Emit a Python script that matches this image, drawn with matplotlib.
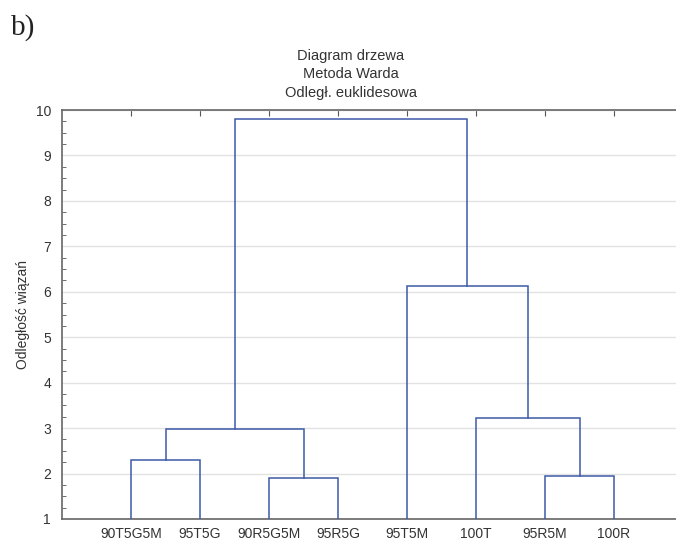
import matplotlib.pyplot as plt
from matplotlib.ticker import MultipleLocator

# leaves in plotted order
leaves = ["90T5G5M", "95T5G", "90R5G5M", "95R5G", "95T5M", "100T", "95R5M", "100R"]
# merges: (node a, node b, height); nodes 0-7 are leaves, 8+ are merged clusters
merge_a = [2, 6, 0, 5, 10, 4, 12]
merge_b = [3, 7, 1, 9, 8, 11, 13]
merge_h = [1.90, 1.95, 2.30, 3.22, 2.98, 6.13, 9.80]

line_col = "#3c5aa8"
text_col = "#333333"

plt.rcParams['font.family'] = ['Liberation Sans', 'DejaVu Sans']

fig = plt.figure(figsize=(6.76, 5.41), dpi=100)
ax = fig.add_axes([62 / 676, 1 - 519 / 541, 621 / 676, 409 / 541])

pos = {i: (i + 1, 1.0) for i in range(len(leaves))}
for k, (a, b, h) in enumerate(zip(merge_a, merge_b, merge_h)):
    xa, ya = pos[a]
    xb, yb = pos[b]
    ax.plot([xa, xa, xb, xb], [ya, h, h, yb], color=line_col, lw=1.1,
            solid_joinstyle="miter", zorder=3)
    pos[len(leaves) + k] = ((xa + xb) / 2, h)

ax.set_xlim(0, 9)
ax.set_ylim(1, 10)
ax.set_xticks(range(1, len(leaves) + 1))
ax.set_xticklabels(leaves)
ax.yaxis.set_major_locator(MultipleLocator(1))
ax.yaxis.set_minor_locator(MultipleLocator(0.25))
ax.grid(axis="y", color="#e2e2e2", lw=1, zorder=0)
ax.set_axisbelow(True)

ax.tick_params(axis="x", which="both", direction="in", top=True, bottom=False,
               length=4, color="#555555", labelsize=10, labelcolor=text_col, pad=6)
ax.tick_params(axis="y", which="major", direction="in", length=0,
               labelsize=10, labelcolor=text_col, pad=8)
ax.tick_params(axis="y", which="minor", direction="in", length=3, color="#555555")
for s in ax.spines.values():
    s.set_color("#666666")
    s.set_linewidth(1.2)

ax.set_ylabel("Odległość wiązań", fontsize=10, color=text_col, labelpad=4)

fig.text(351 / 676, 1 - 56 / 541, "Diagram drzewa", ha="center", va="center",
         fontsize=10.5, color=text_col)
fig.text(351 / 676, 1 - 74 / 541, "Metoda Warda", ha="center", va="center",
         fontsize=10.5, color=text_col)
fig.text(351 / 676, 1 - 93 / 541, "Odległ. euklidesowa", ha="center", va="center",
         fontsize=10.5, color=text_col)
fig.text(11 / 676, 1 - 28 / 541, "b)", ha="left", va="center", fontsize=21,
         family="Liberation Serif", color="#222222")

fig.savefig("out.png", dpi=100)
